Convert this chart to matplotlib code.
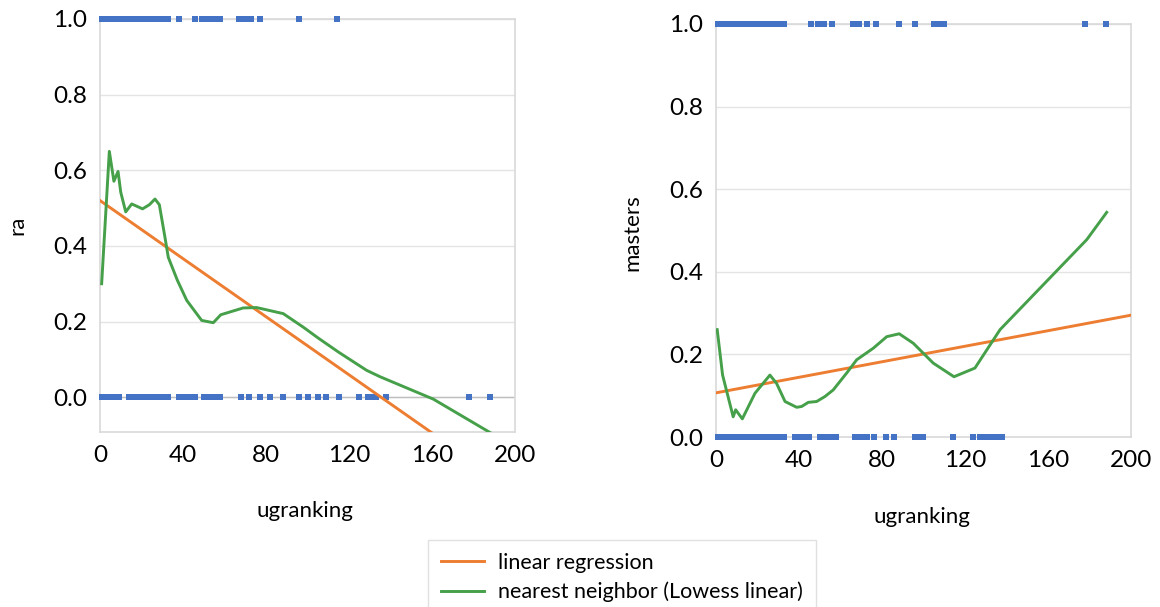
import matplotlib
matplotlib.use("Agg")
import matplotlib.pyplot as plt
import numpy as np

plt.rcParams['font.family'] = ['Lato', 'DejaVu Sans']

# ugranking of schools with ra = 1 / ra = 0
ra_yes = [1, 2, 3, 4, 5, 6, 7, 8, 9, 10, 11, 12, 13, 14, 15, 16, 17, 18, 19, 20, 21, 22, 23,
          24, 25, 26, 27, 28, 29, 30, 31, 32, 33, 38, 46, 49, 52, 55, 58, 67, 70, 73, 77, 96, 114]
ra_no = [1, 3, 5, 7, 9, 14, 16, 18, 20, 22, 24, 26, 28, 30, 32, 33, 38, 40, 43, 46, 50, 52, 55,
         58, 68, 72, 77, 82, 88, 96, 100, 105, 109, 115, 125, 129, 131, 133, 138, 178, 188]

# ugranking of schools with masters = 1 / masters = 0
ms_yes = [1, 3, 5, 7, 9, 11, 13, 15, 17, 19, 21, 23, 25, 27, 29, 31, 33, 46, 49, 52, 56,
          66, 69, 73, 77, 88, 96, 105, 108, 110, 178, 188]
ms_no = [1, 3, 5, 7, 9, 11, 13, 15, 17, 19, 21, 23, 25, 27, 29, 31, 33, 38, 41, 43, 45,
         50, 53, 56, 58, 67, 70, 73, 76, 82, 86, 96, 98, 100, 114, 124, 127, 130, 133, 136, 138]

# linear regression fits (intercept, slope)
ra_fit = (0.52, -0.00384)
ms_fit = (0.107, 0.00094)

# lowess curves
ra_lw_x = [0.8, 4.5, 6.7, 8.7, 10, 12.4, 15.3, 20.5, 23.8, 26.5, 28.6, 31.3, 32.9, 37.3, 41.8,
           49, 54.6, 58.2, 69, 75.5, 88.3, 98, 105, 115, 128.5, 135, 160.6, 190]
ra_lw_y = [0.30, 0.65, 0.571, 0.597, 0.542, 0.49, 0.511, 0.498, 0.509, 0.524, 0.509, 0.423,
           0.37, 0.309, 0.256, 0.203, 0.197, 0.218, 0.236, 0.237, 0.221, 0.185, 0.157, 0.119,
           0.071, 0.054, -0.005, -0.1]
ms_lw_x = [0.6, 3.2, 8.3, 9.5, 12.7, 18.8, 26, 29.2, 33.3, 38.9, 41.3, 44.5, 48.5, 52.5, 56.5,
           63, 67.8, 75.8, 82.3, 88.3, 95.1, 104.7, 114.7, 124.8, 136.9, 178.7, 188.3]
ms_lw_y = [0.26, 0.15, 0.049, 0.066, 0.044, 0.106, 0.15, 0.13, 0.086, 0.072, 0.074, 0.084,
           0.086, 0.098, 0.114, 0.155, 0.187, 0.215, 0.243, 0.25, 0.227, 0.179, 0.146, 0.167,
           0.26, 0.478, 0.544]

xticks = [0, 40, 80, 120, 160, 200]
yticks = [0.0, 0.2, 0.4, 0.6, 0.8, 1.0]

blue = '#4472C4'
orange = '#ED7D31'
green = '#45A049'
grey = '#D9D9D9'

fig = plt.figure(figsize=(11.6, 6.07), dpi=100)
ax1 = fig.add_axes([0.0862, 0.2883, 0.3578, 0.6804])
ax2 = fig.add_axes([0.6172, 0.2800, 0.3578, 0.6805])


def draw(ax, yes, no, fit, lx, ly, ylab, ylim, xl_pos, yl_pos):
    ax.plot(yes, [1] * len(yes), 's', color=blue, ms=4.3, mew=0, clip_on=False, zorder=3)
    ax.plot(no, [0] * len(no), 's', color=blue, ms=4.3, mew=0, clip_on=False, zorder=3)
    xs = np.array([0, 200])
    l1, = ax.plot(xs, fit[0] + fit[1] * xs, color=orange, lw=2.1, zorder=4)
    l2, = ax.plot(lx, ly, color=green, lw=2.1, zorder=4)
    ax.set_xlim(0, 200)
    ax.set_ylim(*ylim)
    ax.set_xticks(xticks)
    ax.set_yticks(yticks)
    ax.set_yticklabels(['%.1f' % v for v in yticks])
    ax.tick_params(length=0, labelsize=17.5, pad=9, colors='black')
    ax.grid(axis='y', color='#E4E4E4', lw=1)
    ax.set_axisbelow(True)
    for s in ax.spines.values():
        s.set_color(grey)
        s.set_linewidth(1.2)
    ax.set_xlabel('ugranking', fontsize=16, va='center')
    ax.set_ylabel(ylab, fontsize=16, va='center')
    ax.xaxis.set_label_coords(*xl_pos)
    ax.yaxis.set_label_coords(*yl_pos)
    return l1, l2


l1, l2 = draw(ax1, ra_yes, ra_no, ra_fit, ra_lw_x, ra_lw_y, 'ra', (-0.092, 1.0),
              (0.494, -0.191), (-0.198, 0.501))
draw(ax2, ms_yes, ms_no, ms_fit, ms_lw_x, ms_lw_y, 'masters', (0.0, 1.0),
     (0.496, -0.194), (-0.202, 0.496))
ax1.axhline(0, color='#BFBFBF', lw=1, zorder=1)

leg = fig.legend([l1, l2], ['linear regression', 'nearest neighbor (Lowess linear)'],
                 loc='upper left', bbox_to_anchor=(0.369, 0.111), fontsize=15.5,
                 frameon=True, fancybox=False, handlelength=2.0, handletextpad=0.65,
                 borderpad=0.6, labelspacing=0.42, borderaxespad=0)
leg.get_frame().set_edgecolor(grey)
leg.get_frame().set_linewidth(1)

fig.savefig('out.png', dpi=100)
